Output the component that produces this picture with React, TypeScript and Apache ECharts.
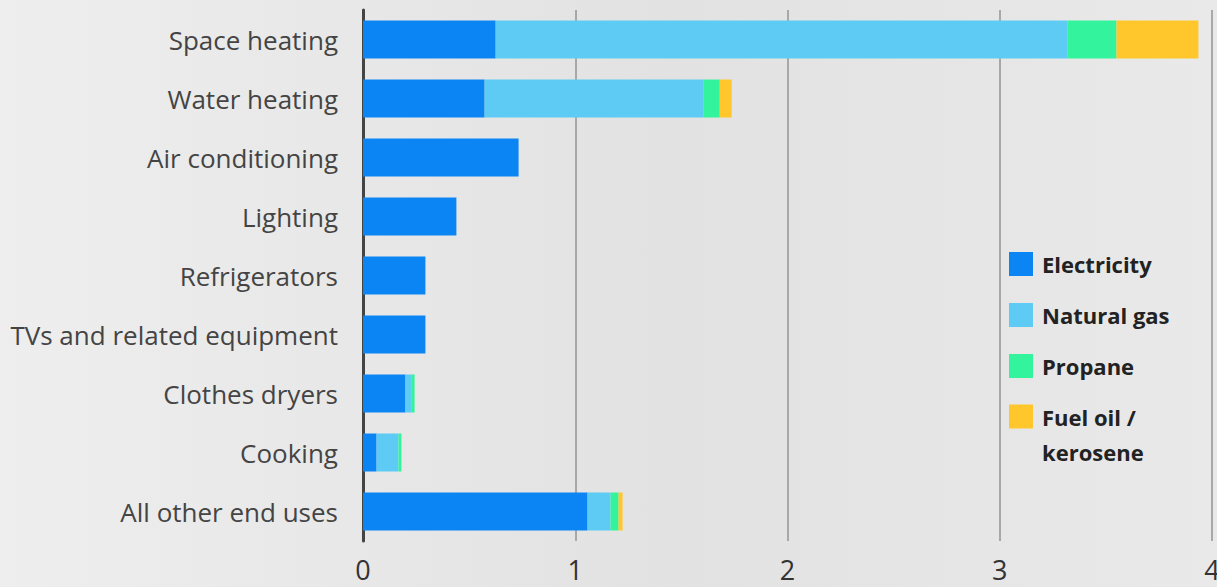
import React, { useEffect, useRef } from "react";
import * as echarts from "echarts";

const categories = [
  "Space heating",
  "Water heating",
  "Air conditioning",
  "Lighting",
  "Refrigerators",
  "TVs and related equipment",
  "Clothes dryers",
  "Cooking",
  "All other end uses",
];
const electricity = [0.625, 0.573, 0.733, 0.44, 0.294, 0.294, 0.2, 0.064, 1.058];
const naturalGas = [2.693, 1.03, 0, 0, 0, 0, 0.027, 0.103, 0.108];
const propane = [0.232, 0.078, 0, 0, 0, 0, 0.016, 0.014, 0.038];
const fuelOil = [0.386, 0.056, 0, 0, 0, 0, 0, 0, 0.019];
const xTicks = [0, 1, 2, 3, 4];

const seriesNames = ["Electricity", "Natural gas", "Propane", "Fuel oil / kerosene"];
const seriesColors = ["#0a85f3", "#5ecbf4", "#33f49c", "#ffc72c"];
const seriesData = [electricity, naturalGas, propane, fuelOil];

const FONT = "'Open Sans', 'Noto Sans', sans-serif";

export default function App() {
  const ref = useRef<HTMLDivElement>(null);
  useEffect(() => {
    document.body.style.margin = "0";
    const chart = echarts.init(ref.current!, null, { renderer: "svg" });
    const legendText = {
      fontFamily: FONT,
      fontWeight: "bold",
      fontSize: 22,
      color: "#222222",
      lineHeight: 35,
      padding: [0, 0, 0, 4],
    };
    chart.setOption({
      animation: false,
      backgroundColor: new echarts.graphic.LinearGradient(0, 0, 1, 0, [
        { offset: 0, color: "#eeeeee" },
        { offset: 0.55, color: "#e2e2e2" },
        { offset: 1, color: "#e9e9e9" },
      ]),
      grid: {
        left: 363,
        right: 5,
        top: 10,
        bottom: 46,
        containLabel: false,
        outerBoundsMode: "none",
      },
      legend: [
        {
          data: seriesNames.slice(0, 3),
          orient: "vertical",
          left: 1009,
          top: 246.5,
          padding: 0,
          itemWidth: 24,
          itemHeight: 24,
          itemGap: 16,
          icon: "rect",
          textStyle: legendText,
        },
        {
          data: [seriesNames[3]],
          orient: "vertical",
          left: 1009,
          top: 364,
          padding: 0,
          itemWidth: 24,
          itemHeight: 24,
          icon: "rect",
          formatter: () => "\nFuel oil /\nkerosene",
          textStyle: legendText,
        },
      ],
      xAxis: {
        type: "value",
        min: xTicks[0],
        max: xTicks[xTicks.length - 1],
        interval: 1,
        axisLine: { show: false },
        axisTick: { show: false },
        splitLine: { show: true, lineStyle: { color: "#999999", width: 1.6 } },
        axisLabel: {
          fontFamily: FONT,
          fontSize: 27,
          color: "#333333",
          margin: 15,
        },
      },
      yAxis: {
        type: "category",
        data: categories,
        inverse: true,
        axisLine: { show: true, lineStyle: { color: "#444444", width: 3 } },
        axisTick: { show: false },
        axisLabel: {
          fontFamily: FONT,
          fontSize: 26,
          color: "#444444",
          margin: 25,
          padding: [0, 0, 8, 0],
        },
      },
      series: seriesNames.map((name, i) => ({
        name,
        type: "bar",
        stack: "total",
        barWidth: 38,
        data: seriesData[i],
        itemStyle: { color: seriesColors[i] },
        emphasis: { disabled: true },
      })),
    });
    return () => chart.dispose();
  }, []);
  return (
    <div
      ref={ref}
      style={{ position: "absolute", left: 0, top: 0, width: 1217, height: 587 }}
    />
  );
}
